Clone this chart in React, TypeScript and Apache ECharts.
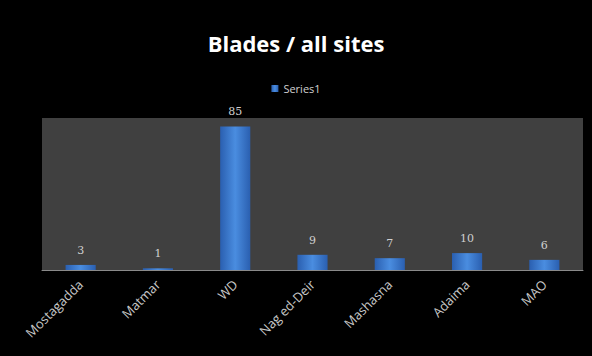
import React, { useEffect, useRef } from "react";
import * as echarts from "echarts";

const categories = ["Mostagadda", "Matmar", "WD", "Nag ed-Deir", "Mashasna", "Adaima", "MAO"];
const values = [3, 1, 85, 9, 7, 10, 6];
const seriesName = "Series1";
const titleText = "Blades / all sites";

export default function App() {
  const ref = useRef<HTMLDivElement>(null);
  useEffect(() => {
    if (!ref.current) return;
    const chart = echarts.init(ref.current, null, { renderer: "svg" });
    const barColor = new echarts.graphic.LinearGradient(0, 0, 1, 0, [
      { offset: 0, color: "#2a5fb0" },
      { offset: 0.5, color: "#4a8de0" },
      { offset: 1, color: "#2a5fb0" },
    ]);
    chart.setOption({
      animation: false,
      backgroundColor: "#000000",
      title: {
        text: titleText,
        left: "center",
        top: 27,
        textStyle: { color: "#ffffff", fontSize: 22, fontWeight: "bold", fontFamily: "Open Sans" },
      },
      legend: {
        data: [seriesName],
        top: 78,
        left: "center",
        itemWidth: 7,
        itemHeight: 7,
        itemGap: 4,
        icon: "rect",
        textStyle: { color: "#d0d0d0", fontSize: 11, fontFamily: "Open Sans" },
      },
      grid: {
        left: 42,
        right: 9,
        top: 118,
        bottom: 86,
        show: true,
        backgroundColor: "#404040",
        borderWidth: 0,
      },
      xAxis: {
        type: "category",
        data: categories,
        axisLine: { show: true, lineStyle: { color: "#8a8a8a", width: 1 } },
        axisTick: { show: false },
        axisLabel: {
          rotate: 45,
          color: "#c8c8c8",
          fontSize: 13,
          fontFamily: "Open Sans",
          margin: 12,
          interval: 0,
        },
      },
      yAxis: {
        type: "value",
        min: 0,
        max: 90,
        show: false,
        splitLine: { show: false },
      },
      series: [
        {
          name: seriesName,
          type: "bar",
          data: values,
          barWidth: "39%",
          itemStyle: { color: barColor },
          label: {
            show: true,
            position: "top",
            distance: 9,
            color: "#d0d0d0",
            fontSize: 11,
            fontFamily: "DejaVu Serif",
          },
        },
      ],
    });
    return () => chart.dispose();
  }, []);
  return (
    <div
      ref={ref}
      style={{ position: "fixed", left: 0, top: 0, width: 592, height: 356 }}
    />
  );
}
